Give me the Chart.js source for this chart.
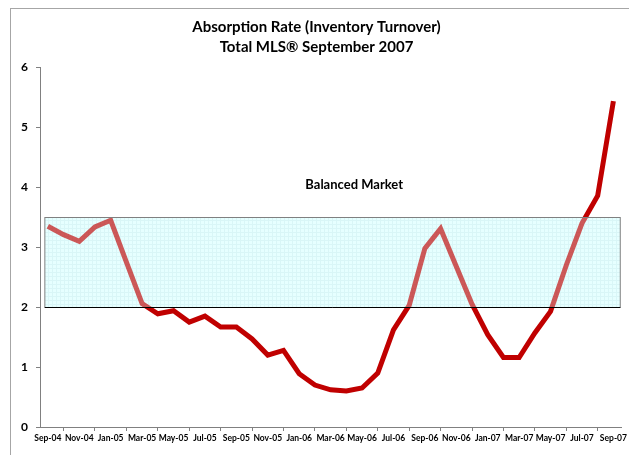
<!DOCTYPE html>
<html>
<head>
<meta charset="utf-8">
<script src="https://cdn.jsdelivr.net/npm/chart.js@4.4.1/dist/chart.umd.min.js"></script>
<style>
  html, body { margin: 0; padding: 0; background: #fff; }
  #marco { position: absolute; left: 10px; top: 8px; width: 700px; height: 500px; border: 1px solid #a6a6a6; }
  #caja { position: absolute; left: 0; top: 0; width: 629px; height: 455px; }
</style>
</head>
<body>
<div id="marco"></div>
<div id="caja"><canvas id="grafico"></canvas></div>
<script>
// Meses (Sep-04 a Sep-07)
const meses = [
  "Sep-04", "Oct-04", "Nov-04", "Dec-04", "Jan-05", "Feb-05", "Mar-05", "Apr-05",
  "May-05", "Jun-05", "Jul-05", "Aug-05", "Sep-05", "Oct-05", "Nov-05", "Dec-05",
  "Jan-06", "Feb-06", "Mar-06", "Apr-06", "May-06", "Jun-06", "Jul-06", "Aug-06",
  "Sep-06", "Oct-06", "Nov-06", "Dec-06", "Jan-07", "Feb-07", "Mar-07", "Apr-07",
  "May-07", "Jun-07", "Jul-07", "Aug-07", "Sep-07"
];

// Tasa de absorcion (meses de inventario)
const absorcion = [
  3.35, 3.21, 3.10, 3.34, 3.45, 2.75, 2.06, 1.89,
  1.94, 1.75, 1.85, 1.67, 1.67, 1.47, 1.20, 1.28,
  0.89, 0.70, 0.62, 0.60, 0.65, 0.90, 1.62, 2.03,
  2.98, 3.31, 2.68, 2.05, 1.54, 1.16, 1.16, 1.57,
  1.93, 2.70, 3.40, 3.86, 5.44
];

// Rango de mercado equilibrado
const rangoEquilibrado = [2, 3.5];
const textoEquilibrado = "Balanced Market";
const ticksY = [0, 1, 2, 3, 4, 5, 6];

const fuente = "Lato, 'Open Sans', sans-serif";

/* patron de la caja */
function crearPatron(ctx) {
  const c = document.createElement("canvas");
  c.width = 4; c.height = 4;
  const p = c.getContext("2d");
  p.fillStyle = "#e6ffff";
  p.fillRect(0, 0, 4, 4);
  p.fillStyle = "#d9f6f7";
  p.fillRect(0, 0, 4, 1);
  p.fillRect(0, 0, 1, 4);
  return ctx.createPattern(c, "repeat");
}

function limitesCaja(chart) {
  const x = chart.scales.x, y = chart.scales.y;
  return {
    izq: x.getPixelForValue(0) - 3,
    der: chart.chartArea.right - 1,
    arriba: Math.round(y.getPixelForValue(rangoEquilibrado[1])) + 0.5,
    abajo: Math.round(y.getPixelForValue(rangoEquilibrado[0])) + 0.5
  };
}

const cajaEquilibrio = {
  id: "cajaEquilibrio",
  beforeDatasetsDraw(chart) {
    const ctx = chart.ctx, b = limitesCaja(chart);
    ctx.save();
    ctx.fillStyle = crearPatron(ctx);
    ctx.fillRect(b.izq, b.arriba, b.der - b.izq, b.abajo - b.arriba);
    ctx.restore();
  },
  afterDatasetsDraw(chart) {
    const ctx = chart.ctx, b = limitesCaja(chart);
    ctx.save();
    // velo sobre la linea dentro de la caja
    ctx.fillStyle = crearPatron(ctx);
    ctx.globalAlpha = 0.35;
    ctx.fillRect(b.izq, b.arriba, b.der - b.izq, b.abajo - b.arriba);
    ctx.globalAlpha = 1;
    ctx.strokeStyle = "#808080";
    ctx.lineWidth = 1;
    ctx.strokeRect(b.izq, b.arriba, b.der - b.izq, b.abajo - b.arriba);
    ctx.strokeStyle = "#000";
    ctx.beginPath();
    ctx.moveTo(b.izq, b.abajo);
    ctx.lineTo(b.der, b.abajo);
    ctx.stroke();
    // etiqueta
    ctx.fillStyle = "#000";
    ctx.font = "bold 13px " + fuente;
    ctx.textAlign = "center";
    ctx.textBaseline = "middle";
    ctx.fillText(textoEquilibrado, chart.scales.x.getPixelForValue(19.5), chart.scales.y.getPixelForValue(4.04));
    ctx.restore();
  }
};

const ctx = document.getElementById("grafico");

new Chart(ctx, {
  type: "line",
  data: {
    labels: meses,
    datasets: [
      {
        label: "Absorption Rate",
        data: absorcion,
        borderColor: "#c00000",
        borderWidth: 5,
        pointRadius: 0,
        tension: 0,
        fill: false,
      },
    ],
  },
  options: {
    responsive: true,
    maintainAspectRatio: false,
    animation: false,
    layout: { padding: { left: 10, right: 6, top: 0, bottom: 0 } },
    plugins: {
      legend: { display: false },
      tooltip: { enabled: false },
      title: {
        display: true,
        text: ["Absorption Rate (Inventory Turnover)", "Total MLS\u00AE September 2007"],
        color: "#000",
        font: { family: fuente, size: 15, weight: "bold", lineHeight: 1.35 },
        padding: { top: 17, bottom: 10 },
      },
    },
    scales: {
      x: {
        offset: true,
        grid: { display: true, offset: true, drawOnChartArea: false, tickLength: 4, color: "#808080" },
        border: { display: true, color: "#808080" },
        ticks: {
          autoSkip: false,
          maxRotation: 0,
          padding: 2,
          color: "#000",
          font: { family: fuente, size: 8.5, weight: "bold" },
          callback: function (v, i) {
            return i % 2 === 0 ? meses[i] : null;
          },
        },
        afterFit(scale) { scale.height = 28; },
      },
      y: {
        min: 0,
        max: 6,
        afterBuildTicks(scale) { scale.ticks = ticksY.map(v => ({ value: v })); },
        grid: { display: true, drawOnChartArea: false, tickLength: 4, color: "#808080" },
        border: { display: true, color: "#808080" },
        ticks: {
          padding: 8,
          color: "#000",
          font: { family: fuente, size: 12, weight: "bold" },
        },
        afterFit(scale) { scale.width = 30; },
      },
    },
  },
  plugins: [cajaEquilibrio],
});
</script>
</body>
</html>
